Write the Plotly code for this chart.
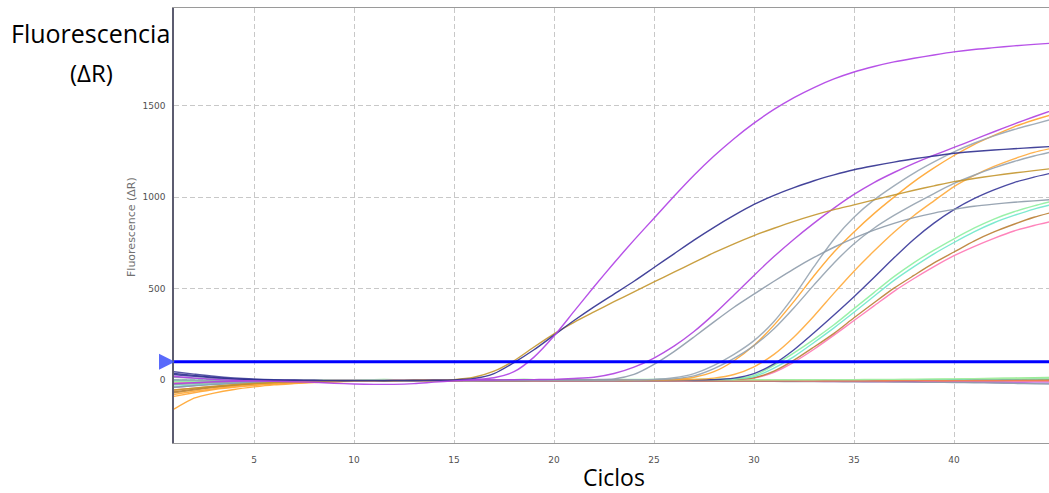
import plotly.graph_objects as go

cycles = [1, 2, 3, 4, 5, 6, 7, 8, 9, 10, 11, 12, 13, 14, 15, 16, 17, 18, 19, 20,
          21, 22, 23, 24, 25, 26, 27, 28, 29, 30, 31, 32, 33, 34, 35, 36, 37, 38, 39, 40,
          41, 42, 43, 44, 45]

threshold = 100

# ---- non-amplifying (flat) wells ----
flat_green = [-5, -4, -3, -2, -1, 0, 0, 1, 1, 1, 2, 2, 2, 2, 2, 2, 2, 2, 2, 1, 1, 1, 0, 0, 0,
              -1, -1, -1, -1, -1, -1, 0, 0, 0, 1, 1, 2, 2, 3, 4, 6, 8, 10, 12, 14]
flat_orange = [-90, -70, -52, -40, -30, -22, -16, -12, -9, -7, -6, -5, -5, -4, -4, -4, -4, -5, -5, -5,
               -6, -6, -6, -6, -6, -6, -6, -6, -6, -6, -7, -7, -7, -7, -6, -6, -5, -5, -4, -4,
               -3, -3, -2, -2, -1]
flat_purple = [-40, -30, -22, -16, -12, -9, -7, -6, -5, -5, -5, -5, -5, -5, -5, -5, -5, -5, -5, -6,
               -6, -6, -6, -6, -6, -6, -7, -7, -7, -7, -8, -8, -8, -9, -9, -10, -10, -11, -12, -12,
               -13, -14, -15, -16, -17]
flat_gray = [15, 10, 5, 2, 0, -2, -3, -4, -4, -5, -5, -5, -5, -5, -5, -5, -6, -6, -6, -6,
             -6, -7, -7, -7, -7, -7, -7, -8, -8, -8, -8, -9, -9, -9, -10, -10, -11, -12, -13, -14,
             -15, -17, -19, -21, -23]
flat_brown = [-70, -55, -42, -32, -24, -18, -13, -10, -8, -6, -5, -4, -4, -3, -3, -3, -3, -3, -3, -3,
              -3, -3, -4, -4, -4, -4, -4, -4, -4, -4, -4, -4, -4, -4, -3, -3, -3, -2, -2, -2,
              -1, -1, 0, 0, 1]
flat_navy = [45, 32, 20, 11, 5, 1, -1, -3, -4, -4, -4, -4, -4, -4, -4, -4, -4, -4, -4, -4,
             -4, -4, -4, -4, -4, -4, -4, -4, -4, -4, -5, -5, -5, -5, -5, -5, -5, -6, -6, -6,
             -6, -6, -6, -6, -6]
flat_pink = [-20, -16, -12, -9, -7, -5, -4, -3, -3, -3, -3, -3, -2, -2, -2, -2, -2, -2, -3, -3,
             -3, -3, -3, -3, -3, -4, -4, -4, -4, -4, -4, -4, -5, -5, -5, -5, -5, -5, -6, -6,
             -6, -6, -7, -7, -7]
flat_teal = [0, -1, -2, -2, -2, -2, -2, -2, -2, -2, -2, -2, -2, -2, -2, -2, -2, -2, -2, -2,
             -2, -2, -2, -2, -1, -1, -1, -1, -1, -1, -1, 0, 0, 0, 0, 1, 1, 1, 2, 2,
             3, 3, 4, 5, 6]
flat_salmon = [-55, -45, -35, -27, -20, -15, -11, -8, -6, -5, -4, -4, -4, -4, -4, -4, -4, -4, -4, -4,
               -4, -4, -4, -4, -4, -4, -4, -5, -5, -5, -5, -5, -5, -5, -5, -5, -4, -4, -4, -4,
               -3, -3, -3, -3, -3]
flat_lime = [-25, -20, -15, -11, -8, -6, -4, -3, -2, -1, -1, 0, 0, 0, 0, 0, 0, 0, 0, 0,
             0, 0, 0, 0, 0, 0, 0, 0, 1, 1, 1, 1, 1, 2, 2, 3, 3, 4, 5, 6,
             7, 8, 9, 10, 11]

# ---- amplifying wells ----
purple_a = [20, 10, 3, -2, -5, -8, -10, -13, -18, -22, -24, -24, -20, -12, -5,
            2, 12, 45, 125, 240, 375, 510, 640, 765, 885, 1005, 1120, 1225, 1320, 1405,
            1480, 1545, 1600, 1647, 1685, 1715, 1740, 1760, 1778, 1795, 1808, 1818, 1828, 1836, 1843]
navy_b = [35, 25, 14, 6, 2, 0, -2, -3, -4, -4, -4, -4, -3, -2, 0,
          8, 35, 95, 165, 245, 325, 400, 470, 540, 615, 690, 765, 835, 900, 960,
          1010, 1052, 1090, 1122, 1150, 1172, 1192, 1210, 1225, 1240, 1250, 1258, 1265, 1272, 1278]
gold_c = [-55, -45, -35, -26, -19, -14, -10, -8, -6, -5, -4, -3, -2, -1, 2,
          15, 48, 105, 180, 252, 315, 372, 428, 482, 536, 590, 643, 696, 745, 790,
          830, 868, 902, 932, 958, 985, 1012, 1038, 1062, 1085, 1102, 1118, 1132, 1145, 1158]
purple_d = [-20, -15, -10, -7, -5, -4, -3, -3, -3, -3, -3, -2, -2, -2, -1, 0, 0, 1, 2,
            3, 8, 15, 35, 70, 120, 185, 265, 360, 465, 572, 675, 770, 858, 940, 1015,
            1080, 1135, 1185, 1230, 1272, 1315, 1358, 1400, 1440, 1478]
gray_e = [-40, -32, -25, -19, -14, -10, -8, -6, -5, -4, -4, -3, -3, -2, -2, -1, -1, 0, 0, 1, 1, 2,
          5, 30, 85, 155, 235, 318, 398, 470, 540, 608, 670, 726, 776, 820, 857, 888, 913, 933,
          950, 962, 972, 980, 988]
gray_f = [0, -2, -4, -5, -6, -6, -6, -5, -5, -5, -4, -4, -4, -3, -3, -3, -2, -2, -2, -1, -1, 0, 0, 1,
          3, 12, 35, 80, 140, 215, 320, 460, 620, 770, 890, 985, 1062, 1132, 1193, 1248,
          1295, 1335, 1370, 1400, 1430]
gray_g = [-25, -20, -15, -12, -9, -7, -6, -5, -4, -4, -4, -3, -3, -3, -2, -2, -2, -1, -1, -1, 0, 0, 0, 1, 2,
          6, 22, 62, 118, 188, 280, 395, 520, 640, 745, 830, 900, 962, 1020, 1075,
          1120, 1160, 1195, 1225, 1250]
orange_1 = [-160, -100, -72, -52, -38, -27, -20, -14, -10, -8, -6, -5, -4, -3, -3, -2, -2, -1, -1, 0, 0, 0, 0, 1, 1,
            3, 15, 45, 105, 190, 300, 430, 570, 700, 810, 910, 1000, 1085, 1160, 1228,
            1288, 1338, 1385, 1422, 1455]
orange_2 = [-80, -62, -48, -36, -27, -20, -15, -11, -9, -7, -6, -5, -4, -3, -3, -2, -2, -2, -1, -1, -1, 0, 0, 0, 1, 1,
            3, 10, 30, 72, 140, 235, 350, 475, 595, 705, 808, 900, 980, 1058,
            1118, 1168, 1210, 1245, 1270]
navy_2 = [30, 20, 12, 6, 2, 0, -2, -3, -4, -4, -4, -4, -3, -3, -3, -2, -2, -2, -1, -1, -1, 0, 0, 0, 0, 1, 1,
          2, 10, 35, 88, 165, 258, 355, 455, 560, 668, 770, 858, 932,
          992, 1040, 1080, 1110, 1135]
green_w = [-10, -8, -6, -5, -4, -3, -2, -2, -1, -1, 0, 0, 0, 1, 1, 1, 1, 2, 2, 2, 2, 2, 2, 3, 3, 3, 3, 4,
           6, 25, 80, 148, 222, 302, 390, 478, 565, 642, 710, 772, 830, 880, 920, 952, 980]
cyan_w = [-35, -28, -22, -17, -13, -10, -8, -6, -5, -4, -3, -2, -2, -1, -1, -1, 0, 0, 0, 0, 1, 1, 1, 1, 1, 2, 2, 2,
          4, 18, 65, 128, 205, 285, 370, 458, 545, 620, 690, 752, 810, 860, 900, 935, 962]
brown_w = [-65, -50, -38, -29, -22, -16, -12, -9, -7, -5, -4, -3, -3, -2, -2, -2, -1, -1, -1, -1, 0, 0, 0, 0, 0, 1, 1, 1,
           3, 12, 48, 108, 180, 255, 340, 422, 502, 572, 640, 700, 760, 810, 852, 890, 920]
pink_w = [-15, -12, -9, -7, -5, -4, -3, -3, -2, -2, -2, -1, -1, -1, -1, 0, 0, 0, 0, 0, 0, 1, 1, 1, 1, 1, 1, 2,
          3, 10, 42, 98, 168, 245, 325, 405, 485, 555, 620, 680, 730, 775, 815, 845, 870]

x_ticks = [5, 10, 15, 20, 25, 30, 35, 40]
y_ticks = [0, 500, 1000, 1500]
x_range = [1, 44.75]
y_range = [-345, 2035]

flat_series = [
    (flat_green, "#86e886"), (flat_orange, "#ffa533"), (flat_purple, "#b468dc"),
    (flat_gray, "#8d9cab"), (flat_brown, "#c48d3c"), (flat_navy, "#44449c"),
    (flat_pink, "#ff80bb"), (flat_teal, "#60c8c0"), (flat_salmon, "#f2824a"),
    (flat_lime, "#a8f0a0"),
]
amp_series = [
    (pink_w, "#ff77b4"), (brown_w, "#bb7f34"), (cyan_w, "#6fe8cc"), (green_w, "#8ef0a0"),
    (navy_2, "#38389a"), (orange_2, "#ffaa3a"), (orange_1, "#ffa52e"), (gray_g, "#95a3b0"),
    (gray_f, "#98a6b3"), (gray_e, "#8e9cab"), (purple_d, "#b040e0"), (gold_c, "#c4962e"),
    (navy_b, "#303090"), (purple_a, "#b040e6"),
]

fig = go.Figure()
for vals, col in flat_series + amp_series:
    fig.add_trace(go.Scatter(x=cycles, y=vals, mode="lines",
                             line=dict(color=col, width=1.4, shape="spline", smoothing=0.7),
                             opacity=0.9, hoverinfo="skip", showlegend=False))

# threshold line
fig.add_trace(go.Scatter(x=[x_range[0], x_range[1]], y=[threshold, threshold], mode="lines",
                         line=dict(color="#0000ff", width=3), showlegend=False, hoverinfo="skip"))

grid = dict(showgrid=True, gridcolor="#c8c8c8", gridwidth=1, griddash="5px,3px")
fig.update_xaxes(range=x_range, tickvals=x_ticks, zeroline=False, showline=True, mirror=True,
                 linecolor="#9a9a9a", linewidth=1, ticks="", ticklabelstandoff=8,
                 tickfont=dict(family="DejaVu Sans", size=9, color="#505050"), **grid)
fig.update_yaxes(range=y_range, tickvals=y_ticks, zeroline=False, showline=True, mirror=False,
                 linecolor="#5c5c70", linewidth=1.5, ticks="", ticklabelstandoff=5,
                 tickfont=dict(family="DejaVu Sans", size=9, color="#505050"), **grid)

W, H = 1049, 493
ml, mr, mt, mb = 174, 0, 8, 50
pw, ph = W - ml - mr, H - mt - mb

def px(xp):
    return (xp - ml) / pw

def py(yp):
    return (H - mb - yp) / ph

# threshold handle (triangle) just left of the axis, in paper coordinates
ty = (threshold - y_range[0]) / (y_range[1] - y_range[0])
hh = 8 / ph
tri = f"M {px(159)} {ty - hh} L {px(175)} {ty} L {px(159)} {ty + hh} Z"
fig.add_shape(type="path", path=tri, xref="paper", yref="paper",
              fillcolor="rgba(60,80,250,0.85)", line=dict(width=0))

annotations = [
    dict(text="Fluorescence (ΔR)", x=px(131), y=py(227), textangle=-90,
         font=dict(family="DejaVu Sans", size=11, color="#707070")),
    dict(text="Fluorescencia", x=px(90), y=py(33),
         font=dict(family="Open Sans", size=25, color="#000000")),
    dict(text="(ΔR)", x=px(91), y=py(72),
         font=dict(family="Open Sans", size=24, color="#000000")),
    dict(text="Ciclos", x=px(614), y=py(477),
         font=dict(family="Open Sans", size=23, color="#000000")),
]
for a in annotations:
    a.update(xref="paper", yref="paper", xanchor="center", yanchor="middle", showarrow=False)

fig.update_layout(width=W, height=H, margin=dict(l=ml, r=mr, t=mt, b=mb),
                  plot_bgcolor="white", paper_bgcolor="white", annotations=annotations,
                  showlegend=False)

fig.write_html("out.html")
